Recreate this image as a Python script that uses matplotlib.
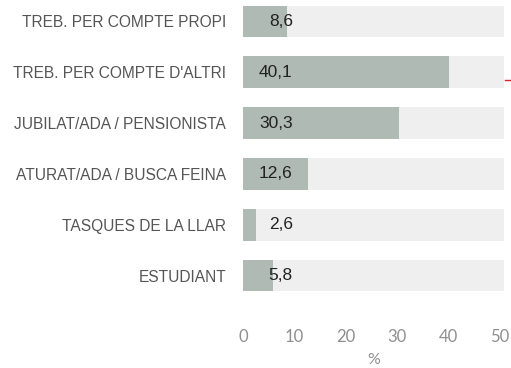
import matplotlib
matplotlib.use("Agg")
import matplotlib.pyplot as plt

# Situació laboral (% sobre el total)
categories = [
    "TREB. PER COMPTE PROPI",
    "TREB. PER COMPTE D'ALTRI",
    "JUBILAT/ADA / PENSIONISTA",
    "ATURAT/ADA / BUSCA FEINA",
    "TASQUES DE LA LLAR",
    "ESTUDIANT",
]
valors = [8.6, 40.1, 30.3, 12.6, 2.6, 5.8]
etiquetes = ["8,6", "40,1", "30,3", "12,6", "2,6", "5,8"]
xticks = [0, 10, 20, 30, 40, 50]
xmax = 50.8

fig = plt.figure(figsize=(5.11, 3.68), dpi=100)
ax = fig.add_axes([243 / 511, 67 / 368, 261 / 511, 305 / 368])

pos = list(range(len(categories)))
alt = 0.62

# fons gris clar fins a l'extrem de l'eix
ax.barh(pos, [xmax] * len(pos), height=alt, color="#efefef", zorder=1)
ax.barh(pos, valors, height=alt, color="#aebab3", zorder=2)

for p, txt in zip(pos, etiquetes):
    ax.text(9.7, p, txt, ha="right", va="center", fontsize=12.5,
            color="#222222", family="Liberation Sans", zorder=3)

ax.set_ylim(len(pos) - 0.5, -0.5)
ax.set_xlim(0, xmax)
ax.set_yticks(pos)
ax.set_yticklabels(categories, family="Liberation Sans",
                   fontsize=11.2, color="#555555")
ax.set_xticks(xticks)
ax.set_xticklabels([str(t) for t in xticks], family="Lato",
                   fontsize=12, color="#8f8f8f")
ax.tick_params(axis="y", length=0, pad=12)
ax.tick_params(axis="x", length=0, pad=20)
ax.set_xlabel("%", family="Lato", fontsize=11.5,
              color="#8f8f8f", labelpad=6)

for s in ax.spines.values():
    s.set_visible(False)

# petita marca vermella al marge dret
ax.plot([1.003, 1.03], [0.725, 0.725], transform=ax.transAxes, color="#e0202a",
        lw=1, clip_on=False)

fig.savefig("out.png", dpi=100)
